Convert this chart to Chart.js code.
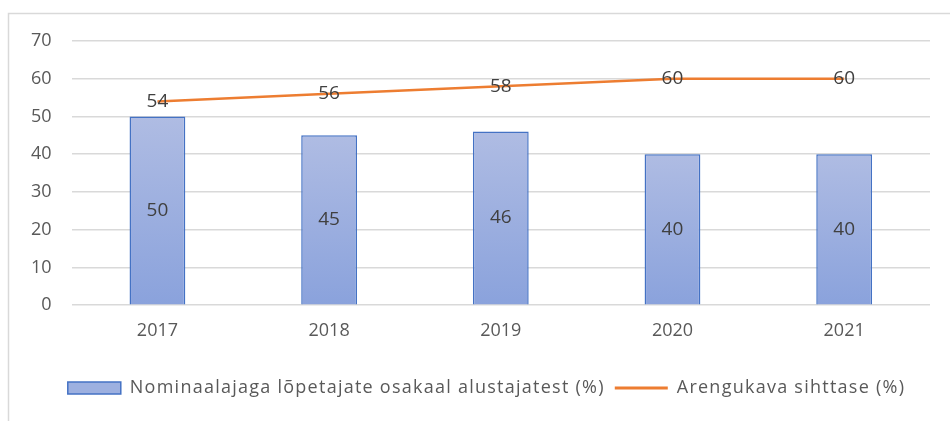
<!DOCTYPE html>
<html>
<head>
<meta charset="utf-8">
<script src="https://cdn.jsdelivr.net/npm/chart.js@4/dist/chart.umd.min.js"></script>
<style>
  html, body { margin: 0; padding: 0; background: #ffffff; }
  #wrap { width: 950px; height: 421px; position: relative; }
</style>
</head>
<body>
<div id="wrap"><canvas id="c" width="950" height="421"></canvas></div>
<script>
const categories = ['2017', '2018', '2019', '2020', '2021'];
const barLabel = 'Nominaalajaga lõpetajate osakaal alustajatest (%)';
const lineLabel = 'Arengukava sihttase (%)';
const barValues = [50, 45, 46, 40, 40];
const lineValues = [54, 56, 58, 60, 60];
const yTicks = [0, 10, 20, 30, 40, 50, 60, 70];

const FONT = "'Open Sans', 'Liberation Sans', sans-serif";

function barGradient(ctx) {
  const chart = ctx.chart;
  const ys = chart.scales && chart.scales.y;
  if (!chart.chartArea || !ys || ctx.raw === undefined) return '#9db0e0';
  const top = ys.getPixelForValue(ctx.raw);
  const bottom = ys.getPixelForValue(0);
  if (!isFinite(top) || !isFinite(bottom) || top === bottom) return '#9db0e0';
  const g = chart.ctx.createLinearGradient(0, top, 0, bottom);
  g.addColorStop(0, '#afbce3');
  g.addColorStop(1, '#8aa2dc');
  return g;
}

const framePlugin = {
  id: 'frame',
  beforeUpdate(chart) {
    const lg = chart.legend;
    if (lg && !lg._spaced) {
      const origDraw = lg.draw.bind(lg);
      const origFit = lg.fit.bind(lg);
      lg.draw = function () { const c = chart.ctx; c.save(); c.letterSpacing = '1.25px'; c.translate(16, 0); origDraw(); c.restore(); };
      lg.fit = function () { const c = chart.ctx; c.save(); c.letterSpacing = '1.25px'; origFit(); c.restore(); };
      lg._spaced = true;
    }
  },
  beforeDraw(chart) {
    const c = chart.ctx;
    c.save();
    c.strokeStyle = '#d9d9d9';
    c.lineWidth = 1.5;
    c.beginPath();
    c.moveTo(8.5, 421);
    c.lineTo(8.5, 13.5);
    c.lineTo(950, 13.5);
    c.stroke();
    c.restore();
  }
};

const labelPlugin = {
  id: 'valueLabels',
  afterDatasetsDraw(chart) {
    const c = chart.ctx;
    c.save();
    c.font = '19px ' + FONT;
    c.fillStyle = '#404040';
    c.textAlign = 'center';
    c.textBaseline = 'middle';
    const barMeta = chart.getDatasetMeta(0);
    barMeta.data.forEach((el, i) => {
      const yMid = (el.y + el.base) / 2;
      c.fillText(String(barValues[i]), el.x, yMid);
    });
    const lineMeta = chart.getDatasetMeta(1);
    lineMeta.data.forEach((el, i) => {
      c.fillText(String(lineValues[i]), el.x, el.y);
    });
    c.restore();
  }
};

new Chart(document.getElementById('c'), {
  data: {
    labels: categories,
    datasets: [
      {
        type: 'bar',
        label: barLabel,
        data: barValues,
        backgroundColor: barGradient,
        borderColor: '#4472c4',
        borderWidth: 1.5,
        barPercentage: 0.65,
        categoryPercentage: 0.5,
        order: 2
      },
      {
        type: 'line',
        label: lineLabel,
        data: lineValues,
        borderColor: '#ed7d31',
        backgroundColor: '#ed7d31',
        borderWidth: 2.5,
        pointRadius: 0,
        tension: 0,
        order: 1
      }
    ]
  },
  options: {
    responsive: false,
    animation: false,
    devicePixelRatio: 1,
    layout: { padding: { top: 41, left: 11, right: 20, bottom: 14 } },
    scales: {
      x: {
        grid: { display: false, drawTicks: false },
        border: { display: false },
        ticks: { color: '#595959', font: { family: FONT, size: 18 }, padding: 15 }
      },
      y: {
        min: 0,
        max: 70,
        afterBuildTicks(scale) { scale.ticks = yTicks.map(v => ({ value: v })); },
        grid: { color: '#d9d9d9', lineWidth: 1.5, drawTicks: false },
        border: { display: false },
        ticks: { color: '#595959', font: { family: FONT, size: 18 }, padding: 20 }
      }
    },
    plugins: {
      legend: {
        position: 'bottom',
        title: { display: true, text: '', font: { size: 1 }, padding: { top: 11, bottom: 0 } },
        labels: {
          color: '#595959',
          font: { family: FONT, size: 18 },
          usePointStyle: true,
          pointStyleWidth: 53,
          boxHeight: 12,
          padding: 10,
          generateLabels(chart) {
            return [
              { text: barLabel, datasetIndex: 0, pointStyle: 'rect', fillStyle: '#9db0e0', strokeStyle: '#4472c4', lineWidth: 1.5, fontColor: '#595959', hidden: false },
              { text: lineLabel, datasetIndex: 1, pointStyle: 'line', fillStyle: '#ed7d31', strokeStyle: '#ed7d31', lineWidth: 3, fontColor: '#595959', hidden: false }
            ];
          }
        }
      },
      tooltip: { enabled: false }
    }
  },
  plugins: [framePlugin, labelPlugin]
});
</script>
</body>
</html>
